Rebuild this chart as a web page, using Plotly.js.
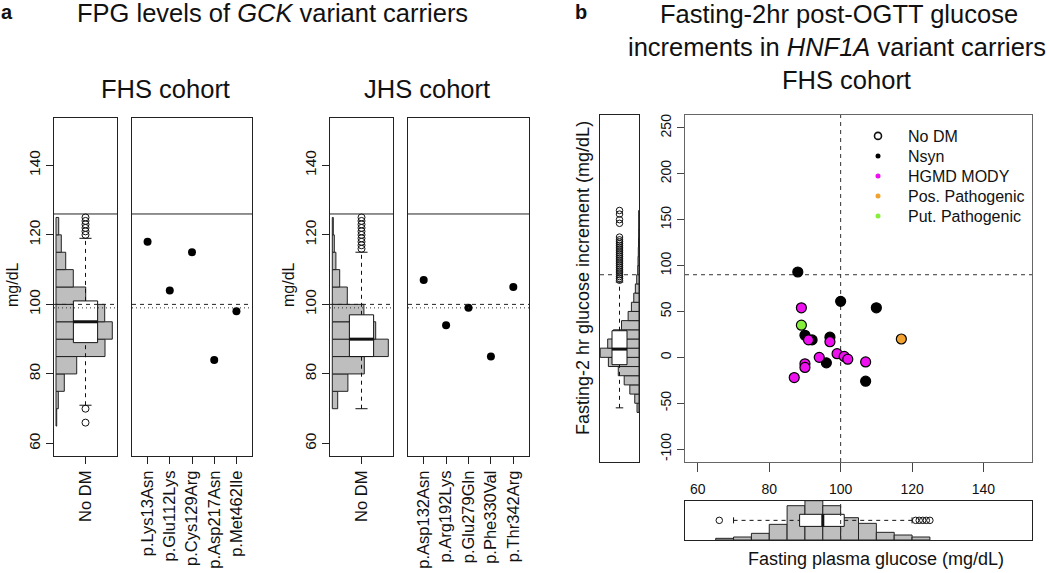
<!DOCTYPE html>
<html><head><meta charset="utf-8">
<script src="https://cdn.plot.ly/plotly-3.0.1.min.js"></script>
<style>html,body{margin:0;padding:0;background:#fff}#chart{width:1050px;height:573px}</style>
</head><body><div id="chart"></div>
<script>
// ===== Panel a data (FPG, mg/dL) =====
const fpgBinWidth = 5;
const fhsFpgBinStart = 65;
const fhsFpgCounts = [5, 16, 58, 145, 343, 394, 341, 208, 121, 68, 37, 19];   // 65-70 ... 120-125
const jhsFpgBinStart = 70;
const jhsFpgCounts = [27, 78, 160, 280, 217, 158, 75, 37, 18, 10, 5];        // 70-75 ... 120-125
const fhsNoDMBox = {q1: 89, med: 95, q3: 101, lo: 71, hi: 119};
const fhsNoDMOutliers = [66, 70, 120, 121, 122, 123, 124, 125];
const jhsNoDMBox = {q1: 85, med: 90, q3: 97, lo: 70, hi: 115};
const jhsNoDMOutliers = [116, 117, 118, 119, 120, 121, 122, 123, 124, 125];
const fhsGckVariants = ['p.Lys13Asn', 'p.Glu112Lys', 'p.Cys129Arg', 'p.Asp217Asn', 'p.Met462Ile'];
const fhsGckFpg = [118, 104, 115, 84, 98];
const jhsGckVariants = ['p.Asp132Asn', 'p.Arg192Lys', 'p.Glu279Gln', 'p.Phe330Val', 'p.Thr342Arg'];
const jhsGckFpg = [107, 94, 99, 85, 105];
const fpgTicks = [60, 80, 100, 120, 140];
const fpgDiabetesCut = 126, fpgRefDashed = 100, fpgRefDotted = 99;

// ===== Panel b data =====
const incBinStart = -60, incBinWidth = 10;
const incCounts = [20, 43, 93, 150, 210, 310, 393, 317, 260, 177, 110, 77, 53, 37, 23, 13, 10, 7, 5, 3, 2, 2]; // -60 ... 160
const incNoDMBox = {q1: -8, med: 9, q3: 29, lo: -55, hi: 82};
const incNoDMOutliers = [84, 86, 88, 90, 92, 94, 96, 98, 100, 102, 104, 106, 108, 110, 112, 114, 116, 118, 120, 122, 124, 126, 128, 131, 146, 150, 156, 160];
const ogttFpgBinStart = 65;
const ogttFpgCounts = [15, 27, 60, 141, 309, 354, 309, 201, 150, 69, 45, 27];  // 65-70 ... 120-125
const ogttNoDMBox = {q1: 88.5, med: 95, q3: 101, lo: 70, hi: 120};
const ogttNoDMOutliers = [66, 121, 122, 123, 124, 125];
const nsynFpg = [88, 100, 110, 90, 92, 97, 96, 107];
const nsynInc = [93, 61, 54, 24, 19, 22, -6, -26];
const hgmdFpg = [89, 91, 97, 94, 99, 101, 102, 107, 90, 90, 87];
const hgmdInc = [54, 19, 17, 0, 4, 1, -2, -5, -7, -11, -22];
const posPathFpg = [117], posPathInc = [20];
const putPathFpg = [89], putPathInc = [35];
const incTicks = [-100, -50, 0, 50, 100, 150, 200, 250];
const fpgTicksB = [60, 80, 100, 120, 140];
const incRefDashed = 90, fpgRefB = 100;
const legendNames = ['No DM', 'Nsyn', 'HGMD MODY', 'Pos. Pathogenic', 'Put. Pathogenic'];

// ===== styling =====
const F = 'Liberation Sans, Arial, Helvetica, sans-serif';
const INK = '#111';
const HIST_FILL = '#bebebe';
const C_MAG = '#ee10ee', C_ORA = '#f2a230', C_GRN = '#86ee3c';
const W = 1050, H = 573;
const dx = (a, b) => [a / W, b / W];
const dy = (t, b) => [1 - b / H, 1 - t / H];

function histTrace(xa, ya, start, width, counts, horizontal) {
  const centers = counts.map((_, i) => start + width * (i + 0.5));
  const t = {type: 'bar', xaxis: xa, yaxis: ya, width: width, hoverinfo: 'skip', showlegend: false,
    marker: {color: HIST_FILL, line: {color: '#222', width: 1}}};
  if (horizontal) { t.orientation = 'h'; t.y = centers; t.x = counts; }
  else { t.x = centers; t.y = counts; }
  return t;
}

function boxTraces(xa, ya, st, outliers, vertical, pos, hw, msize) {
  const P = (a, b) => vertical ? {x: a, y: b} : {x: b, y: a};
  const common = {type: 'scatter', xaxis: xa, yaxis: ya, hoverinfo: 'skip', showlegend: false};
  return [
    Object.assign({}, common, {mode: 'lines', line: {color: INK, width: 1, dash: '4px,4px'}},
      P([pos, pos, null, pos, pos], [st.lo, st.q1, null, st.q3, st.hi])),
    Object.assign({}, common, {mode: 'lines', line: {color: INK, width: 1}},
      P([pos - hw / 2, pos + hw / 2, null, pos - hw / 2, pos + hw / 2], [st.lo, st.lo, null, st.hi, st.hi])),
    Object.assign({}, common, {mode: 'lines', fill: 'toself', fillcolor: '#ffffff', line: {color: INK, width: 1}},
      P([pos - hw, pos + hw, pos + hw, pos - hw, pos - hw], [st.q1, st.q1, st.q3, st.q3, st.q1])),
    Object.assign({}, common, {mode: 'lines', line: {color: INK, width: 3}},
      P([pos - hw, pos + hw], [st.med, st.med])),
    Object.assign({}, common, {mode: 'markers', marker: {symbol: 'circle-open', size: msize, color: INK, line: {width: 1, color: INK}}},
      P(outliers.map(() => pos), outliers))
  ];
}

const traces = [];
// Panel a FHS
traces.push(histTrace('x', 'y', fhsFpgBinStart, fpgBinWidth, fhsFpgCounts, true));
traces.push(...boxTraces('x2', 'y', fhsNoDMBox, fhsNoDMOutliers, true, 0, 0.5, 7));
traces.push({type: 'scatter', mode: 'markers', xaxis: 'x3', yaxis: 'y2', x: fhsGckVariants, y: fhsGckFpg,
  marker: {color: '#000', size: 8}, hoverinfo: 'skip', showlegend: false});
// Panel a JHS
traces.push(histTrace('x4', 'y3', jhsFpgBinStart, fpgBinWidth, jhsFpgCounts, true));
traces.push(...boxTraces('x5', 'y3', jhsNoDMBox, jhsNoDMOutliers, true, 0, 0.5, 7));
traces.push({type: 'scatter', mode: 'markers', xaxis: 'x6', yaxis: 'y4', x: jhsGckVariants, y: jhsGckFpg,
  marker: {color: '#000', size: 8}, hoverinfo: 'skip', showlegend: false});
// Panel b left (increment)
traces.push(histTrace('x7', 'y5', incBinStart, incBinWidth, incCounts, true));
traces.push(...boxTraces('x8', 'y5', incNoDMBox, incNoDMOutliers, true, 0, 0.5, 6.5));
// Panel b bottom (FPG)
traces.push(histTrace('x10', 'y7', ogttFpgBinStart, fpgBinWidth, ogttFpgCounts, false));
traces.push(...boxTraces('x10', 'y8', ogttNoDMBox, ogttNoDMOutliers, false, 0, 0.4, 6.5));
// Panel b main scatter
const ptLine = {color: '#000', width: 1.2};
traces.push({type: 'scatter', mode: 'markers', xaxis: 'x9', yaxis: 'y6', x: nsynFpg, y: nsynInc,
  marker: {color: '#000', size: 10, line: ptLine}, hoverinfo: 'skip', showlegend: false});
traces.push({type: 'scatter', mode: 'markers', xaxis: 'x9', yaxis: 'y6', x: hgmdFpg, y: hgmdInc,
  marker: {color: C_MAG, size: 10, line: ptLine}, hoverinfo: 'skip', showlegend: false});
traces.push({type: 'scatter', mode: 'markers', xaxis: 'x9', yaxis: 'y6', x: posPathFpg, y: posPathInc,
  marker: {color: C_ORA, size: 10, line: ptLine}, hoverinfo: 'skip', showlegend: false});
traces.push({type: 'scatter', mode: 'markers', xaxis: 'x9', yaxis: 'y6', x: putPathFpg, y: putPathInc,
  marker: {color: C_GRN, size: 10, line: ptLine}, hoverinfo: 'skip', showlegend: false});
// legend entries (one small legend per row, to match the row spacing)
const legendMarkers = [
  {symbol: 'circle-open', size: 7, color: INK, line: {width: 1.6, color: INK}},
  {symbol: 'circle', size: 5, color: '#000'},
  {symbol: 'circle', size: 5, color: C_MAG},
  {symbol: 'circle', size: 5, color: C_ORA},
  {symbol: 'circle', size: 5, color: C_GRN}
];
const legendIds = ['legend', 'legend2', 'legend3', 'legend4', 'legend5'];
legendNames.forEach((n, i) => traces.push({type: 'scatter', mode: 'markers', xaxis: 'x9', yaxis: 'y6',
  x: [null], y: [null], name: n, marker: legendMarkers[i], showlegend: true, hoverinfo: 'skip', legend: legendIds[i]}));

const base = {showgrid: false, zeroline: false, fixedrange: true, linecolor: '#222', linewidth: 1,
  tickcolor: '#222', tickwidth: 1, tickfont: {family: F, size: 15.5, color: INK}};
const boxFrame = {showline: true, mirror: true};
const noTicks = {ticks: '', showticklabels: false};
const fpgRangeA = [56.4, 153.6];
const incRange = [-114, 264];
const fpgRangeB = [56.4, 153.6];
const yA = dy(118, 456);
const yB = dy(115, 462);
const catFont = {family: F, size: 16.5, color: INK};

const layout = {
  width: W, height: H, margin: {l: 0, r: 0, t: 0, b: 0},
  paper_bgcolor: '#fff', plot_bgcolor: 'rgba(0,0,0,0)',
  font: {family: F, color: INK},
  showlegend: true,
  // Panel a FHS
  xaxis: Object.assign({}, base, boxFrame, noTicks, {domain: dx(54, 117), anchor: 'y', range: [-14, 427]}),
  xaxis2: Object.assign({}, base, {overlaying: 'x', anchor: 'y', range: [-1.3, 1.3], tickvals: [0], ticktext: ['No DM'],
    tickangle: -90, ticks: 'outside', ticklen: 7, showline: false, tickfont: catFont}),
  yaxis: Object.assign({}, base, boxFrame, {domain: yA, anchor: 'x', range: fpgRangeA, tickvals: fpgTicks,
    tickangle: -90, ticks: 'outside', ticklen: 7}),
  xaxis3: Object.assign({}, base, boxFrame, {domain: dx(132, 252), anchor: 'y2', type: 'category', range: [-0.7, 4.7],
    tickangle: -90, ticks: 'outside', ticklen: 7, tickfont: catFont}),
  yaxis2: Object.assign({}, base, boxFrame, noTicks, {domain: yA, anchor: 'x3', range: fpgRangeA}),
  // Panel a JHS
  xaxis4: Object.assign({}, base, boxFrame, noTicks, {domain: dx(330, 393), anchor: 'y3', range: [-11.5, 303.5]}),
  xaxis5: Object.assign({}, base, {overlaying: 'x4', anchor: 'y3', range: [-1.3, 1.3], tickvals: [0], ticktext: ['No DM'],
    tickangle: -90, ticks: 'outside', ticklen: 7, showline: false, tickfont: catFont}),
  yaxis3: Object.assign({}, base, boxFrame, {domain: yA, anchor: 'x4', range: fpgRangeA, tickvals: fpgTicks,
    tickangle: -90, ticks: 'outside', ticklen: 7}),
  xaxis6: Object.assign({}, base, boxFrame, {domain: dx(408, 529), anchor: 'y4', type: 'category', range: [-0.7, 4.7],
    tickangle: -90, ticks: 'outside', ticklen: 7, tickfont: catFont}),
  yaxis4: Object.assign({}, base, boxFrame, noTicks, {domain: yA, anchor: 'x6', range: fpgRangeA}),
  // Panel b left
  xaxis7: Object.assign({}, base, boxFrame, noTicks, {domain: dx(600, 639), anchor: 'y5', range: [395, 0]}),
  xaxis8: Object.assign({}, base, noTicks, {overlaying: 'x7', anchor: 'y5', range: [-1.3, 1.3], showline: false}),
  yaxis5: Object.assign({}, base, boxFrame, noTicks, {domain: yB, anchor: 'x7', range: incRange}),
  // Panel b main
  xaxis9: Object.assign({}, base, boxFrame, {domain: dx(685, 1032), anchor: 'y6', range: fpgRangeB, tickvals: fpgTicksB,
    ticks: 'outside', ticklen: 9, linecolor: '#666', tickcolor: '#444', ticklabelstandoff: 5,
    tickfont: {family: F, size: 14, color: INK}}),
  yaxis6: Object.assign({}, base, boxFrame, {domain: yB, anchor: 'x9', range: incRange, tickvals: incTicks,
    ticktext: incTicks.map(String), tickangle: -90, ticks: 'outside', ticklen: 7, linecolor: '#666', tickcolor: '#444',
    tickfont: {family: F, size: 14, color: INK}}),
  // Panel b bottom
  xaxis10: Object.assign({}, base, boxFrame, noTicks, {domain: dx(685, 1032), anchor: 'y7', range: fpgRangeB}),
  yaxis7: Object.assign({}, base, boxFrame, noTicks, {domain: dy(500.7, 540), anchor: 'x10', range: [0, 354]}),
  yaxis8: Object.assign({}, base, noTicks, {overlaying: 'y7', anchor: 'x10', range: [-1.3, 1.3], showline: false}),
  shapes: [],
  annotations: []
};
// legends: one per row
const legendRowY = [136, 156, 176, 196, 216];
legendIds.forEach((id, i) => {
  layout[id] = {x: 848 / W, xanchor: 'left', y: 1 - legendRowY[i] / H, yanchor: 'middle', bgcolor: 'rgba(0,0,0,0)',
    font: {family: F, size: 16, color: INK}, itemwidth: 50, itemclick: false, itemdoubleclick: false};
});

// reference lines panel a
[['x', 'y'], ['x3', 'y2'], ['x4', 'y3'], ['x6', 'y4']].forEach(([xa, ya]) => {
  layout.shapes.push({type: 'line', xref: xa + ' domain', yref: ya, x0: 0, x1: 1, y0: fpgDiabetesCut, y1: fpgDiabetesCut,
    line: {color: '#222', width: 1}, layer: 'above'});
  layout.shapes.push({type: 'line', xref: xa + ' domain', yref: ya, x0: 0, x1: 1, y0: fpgRefDashed, y1: fpgRefDashed,
    line: {color: '#222', width: 1, dash: '4px,4px'}, layer: 'above'});
  layout.shapes.push({type: 'line', xref: xa + ' domain', yref: ya, x0: 0, x1: 1, y0: fpgRefDotted, y1: fpgRefDotted,
    line: {color: '#333', width: 1, dash: '1px,3px'}, layer: 'above'});
});
// panel b reference lines
layout.shapes.push({type: 'line', xref: 'x9', yref: 'y6 domain', x0: fpgRefB, x1: fpgRefB, y0: 0, y1: 1,
  line: {color: '#333', width: 1, dash: '4px,4px'}, layer: 'below'});
layout.shapes.push({type: 'line', xref: 'x9 domain', yref: 'y6', x0: 0, x1: 1, y0: incRefDashed, y1: incRefDashed,
  line: {color: '#333', width: 1, dash: '4px,4px'}, layer: 'below'});
layout.shapes.push({type: 'line', xref: 'x7 domain', yref: 'y5', x0: 0, x1: 1, y0: incRefDashed, y1: incRefDashed,
  line: {color: '#333', width: 1, dash: '4px,4px'}, layer: 'above'});
layout.shapes.push({type: 'line', xref: 'x10', yref: 'y7 domain', x0: fpgRefB, x1: fpgRefB, y0: 0, y1: 1,
  line: {color: '#333', width: 1, dash: '4px,4px'}, layer: 'above'});

function ann(text, xpx, ypx, size, opts) {
  return Object.assign({text: text, xref: 'paper', yref: 'paper', x: xpx / W, y: 1 - ypx / H, showarrow: false,
    xanchor: 'center', yanchor: 'middle', font: {family: F, size: size, color: INK}}, opts || {});
}
layout.annotations.push(
  ann('<b>a</b>', 7, 12, 20),
  ann('FPG levels of <i>GCK</i> variant carriers', 272, 13, 25.5),
  ann('FHS cohort', 165, 89, 25.5),
  ann('JHS cohort', 427, 89, 25.5),
  ann('mg/dL', 12, 285, 16, {textangle: -90}),
  ann('mg/dL', 288, 285, 16, {textangle: -90}),
  ann('<b>b</b>', 581, 12, 20),
  ann('Fasting-2hr post-OGTT glucose', 839, 14, 25.5),
  ann('increments in <i>HNF1A</i> variant carriers', 837, 47, 25.5),
  ann('FHS cohort', 846, 80, 25.5),
  ann('Fasting-2 hr glucose increment (mg/dL)', 583, 278, 18, {textangle: -90}),
  ann('Fasting plasma glucose (mg/dL)', 876, 559, 18)
);

Plotly.newPlot('chart', traces, layout, {displayModeBar: false, staticPlot: true});
</script>
</body></html>
